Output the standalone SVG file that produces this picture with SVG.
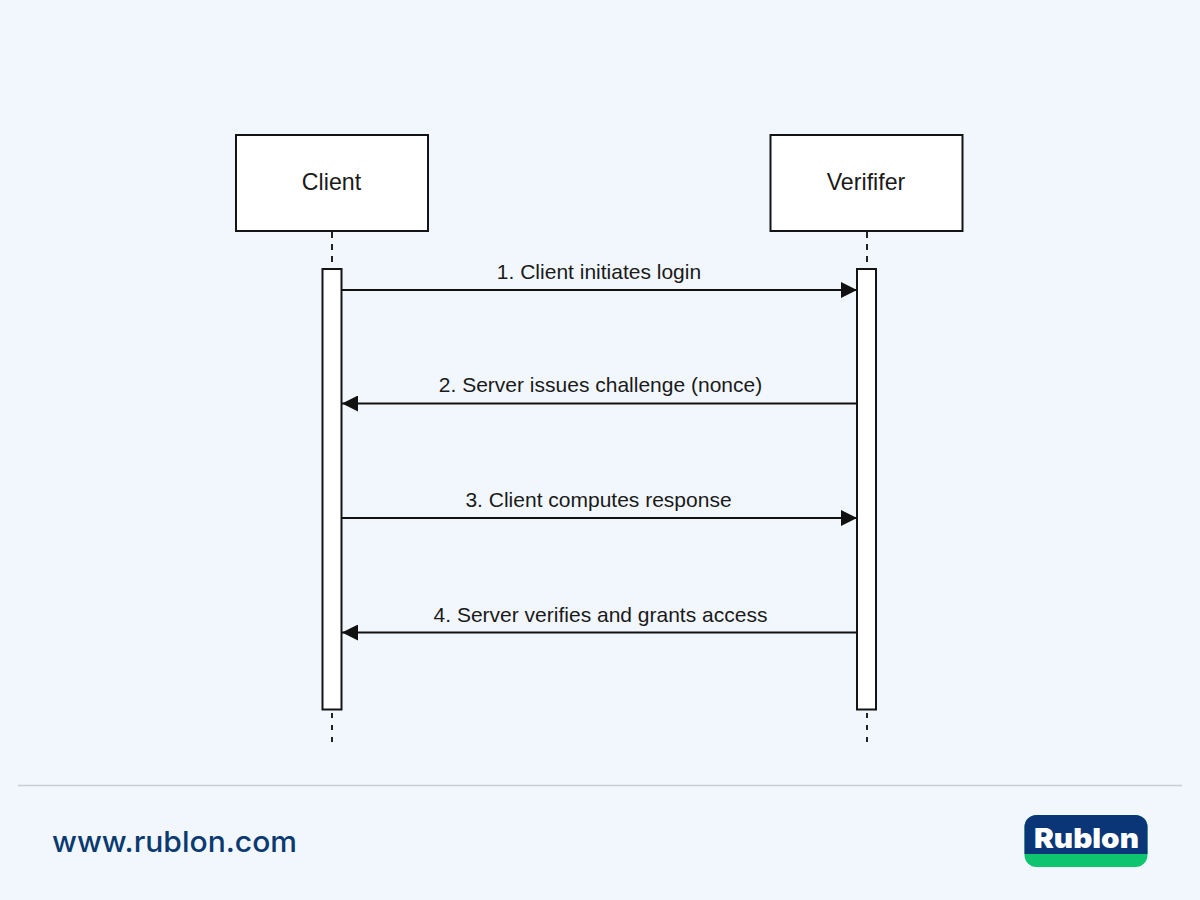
<svg xmlns="http://www.w3.org/2000/svg" width="1200" height="900" viewBox="0 0 1200 900">
<style>
.box{fill:#fff;stroke:#141414;stroke-width:2}
.life{stroke:#222;stroke-width:2;fill:none}
.top{stroke-dasharray:6 6}
.bot{stroke-dasharray:5 7}
.msg{stroke:#111;stroke-width:2;fill:none}
.t{font-family:"Liberation Sans",Arial,sans-serif;fill:#1a1a1a;text-anchor:middle}
.n{font-size:23.200px}
.m{font-size:21px}
</style>
<defs>
<marker id="arr" markerUnits="userSpaceOnUse" markerWidth="17" markerHeight="16" refX="16" refY="8" orient="auto"><path d="M0 0L16 8L0 16Z" fill="#111"/></marker>
</defs>
<rect width="1200" height="900" fill="#f2f7fe"/>
<g id="lifelines">
<path class="life top" d="M332 232V268"/>
<path class="life bot" d="M332 713V742"/>
<path class="life top" d="M867 232V268"/>
<path class="life bot" d="M867 713V742"/>
</g>
<g id="client"><rect class="box" x="236" y="135" width="192" height="96"/><text class="t n" x="331.500" y="189.500">Client</text></g>
<g id="verifier"><rect class="box" x="770.500" y="135" width="192" height="96"/><text class="t n" x="866" y="189.500">Verififer</text></g>
<g id="client-activation"><rect class="box" x="322.500" y="269" width="19" height="440.500"/></g>
<g id="verifier-activation"><rect class="box" x="857" y="269" width="19" height="440.500"/></g>
<g id="connectors">
<path class="msg" marker-end="url(#arr)" d="M342 290H857"/>
<path class="msg" marker-end="url(#arr)" d="M857 403.500H342"/>
<path class="msg" marker-end="url(#arr)" d="M342 518H857"/>
<path class="msg" marker-end="url(#arr)" d="M857 632.500H342"/>
</g>
<g id="labels">
<text class="t m" x="599" y="279">1. Client initiates login</text>
<text class="t m" x="600.500" y="392">2. Server issues challenge (nonce)</text>
<text class="t m" x="598.500" y="507">3. Client computes response</text>
<text class="t m" x="600.500" y="622">4. Server verifies and grants access</text>
</g>
<path d="M18 785.500H1182" stroke="#c9ced6" stroke-width="1.500" fill="none"/>
<text x="52" y="852" font-family="Inter,'Noto Sans',sans-serif" font-size="29" font-weight="500" fill="#0b3a70" textLength="245" lengthAdjust="spacingAndGlyphs">www.rublon.com</text>
<g id="logo">
<rect x="1024.500" y="815" width="123" height="52" rx="12" fill="#0fc46f"/>
<path d="M1024.500 854V827a12 12 0 0 1 12-12H1135.500a12 12 0 0 1 12 12V854Z" fill="#0a3677"/>
<text x="1034" y="848" font-family="Inter,'Noto Sans',sans-serif" font-size="27.500" font-weight="900" fill="#fff" textLength="105" lengthAdjust="spacingAndGlyphs">Rublon</text>
</g>
</svg>
